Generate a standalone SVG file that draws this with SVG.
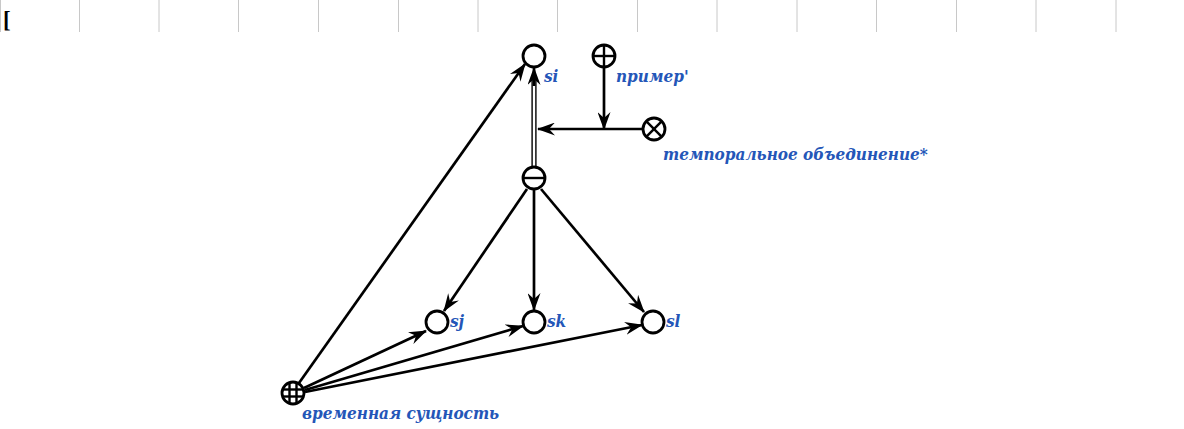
<svg xmlns="http://www.w3.org/2000/svg" width="1184" height="429" viewBox="0 0 1184 429">
<style>
.grid{stroke:#c8c8c8;stroke-width:1}
.node{fill:#fff;stroke:#000;stroke-width:2.8}
.mark{stroke:#000;stroke-width:2.4}
.edge{stroke:#000;stroke-width:2.7;fill:none}
.lbl{font-family:"DejaVu Serif Condensed","DejaVu Serif",serif;font-stretch:condensed;font-weight:bold;font-style:italic;font-size:17px;fill:#2456b8}
</style>
<defs>
<marker id="ah" viewBox="0 0 18 13" refX="17" refY="6.5" markerWidth="18" markerHeight="13" markerUnits="userSpaceOnUse" orient="auto">
<path d="M0,0 L18,6.5 L0,13 L6,6.5 z" fill="#000"/>
</marker>
</defs>
<g id="grid">
<line class="grid" x1="0.5" y1="0" x2="0.5" y2="32"/>
<line class="grid" x1="79.5" y1="0" x2="79.5" y2="32"/>
<line class="grid" x1="159" y1="0" x2="159" y2="32"/>
<line class="grid" x1="238.5" y1="0" x2="238.5" y2="32"/>
<line class="grid" x1="318.5" y1="0" x2="318.5" y2="32"/>
<line class="grid" x1="398.5" y1="0" x2="398.5" y2="32"/>
<line class="grid" x1="478" y1="0" x2="478" y2="32"/>
<line class="grid" x1="557.5" y1="0" x2="557.5" y2="32"/>
<line class="grid" x1="637.5" y1="0" x2="637.5" y2="32"/>
<line class="grid" x1="717" y1="0" x2="717" y2="32"/>
<line class="grid" x1="797" y1="0" x2="797" y2="32"/>
<line class="grid" x1="876.5" y1="0" x2="876.5" y2="32"/>
<line class="grid" x1="956.5" y1="0" x2="956.5" y2="32"/>
<line class="grid" x1="1036" y1="0" x2="1036" y2="32"/>
<line class="grid" x1="1116" y1="0" x2="1116" y2="32"/>
<text x="3" y="27" font-family="Liberation Serif,serif" font-size="23" font-weight="bold" fill="#000">[</text>
</g>
<g id="connectors">
<line x1="534" y1="166" x2="534" y2="76" stroke="#333" stroke-width="5.5"/>
<line x1="534" y1="166" x2="534" y2="80" stroke="#fff" stroke-width="2"/>
<line class="edge" x1="534" y1="86" x2="534" y2="68" marker-end="url(#ah)"/>
<line class="edge" x1="604" y1="68" x2="604" y2="129" marker-end="url(#ah)"/>
<line class="edge" x1="643" y1="129" x2="538" y2="129" marker-end="url(#ah)"/>
<line class="edge" x1="527" y1="189" x2="444" y2="311" marker-end="url(#ah)"/>
<line class="edge" x1="534" y1="189" x2="534" y2="310" marker-end="url(#ah)"/>
<line class="edge" x1="541" y1="189" x2="644" y2="312" marker-end="url(#ah)"/>
<line class="edge" x1="299" y1="383" x2="525" y2="64" marker-end="url(#ah)"/>
<line class="edge" x1="304" y1="388" x2="426" y2="331" marker-end="url(#ah)"/>
<line class="edge" x1="305" y1="390" x2="523" y2="326" marker-end="url(#ah)"/>
<line class="edge" x1="305" y1="392" x2="642" y2="325" marker-end="url(#ah)"/>
</g>
<g id="si">
<circle class="node" cx="534" cy="56" r="11"/>
<text class="lbl" x="544" y="82">si</text>
</g>
<g id="primer">
<circle class="node" cx="604" cy="56" r="11"/>
<line class="mark" x1="593" y1="56" x2="615" y2="56"/>
<line class="mark" x1="604" y1="45" x2="604" y2="67"/>
<text class="lbl" x="616" y="82">пример'</text>
</g>
<g id="temporal">
<circle class="node" cx="654" cy="129" r="11"/>
<line class="mark" x1="646.2" y1="121.2" x2="661.8" y2="136.8"/>
<line class="mark" x1="661.8" y1="121.2" x2="646.2" y2="136.8"/>
<text class="lbl" x="663" y="160">темпоральное объединение*</text>
</g>
<g id="minus">
<circle class="node" cx="534" cy="178" r="11"/>
<line class="mark" x1="523" y1="178" x2="545" y2="178"/>
</g>
<g id="sj">
<circle class="node" cx="437" cy="322" r="11"/>
<text class="lbl" x="450" y="327">sj</text>
</g>
<g id="sk">
<circle class="node" cx="534" cy="322" r="11"/>
<text class="lbl" x="547" y="327">sk</text>
</g>
<g id="sl">
<circle class="node" cx="653" cy="322" r="11"/>
<text class="lbl" x="666" y="327">sl</text>
</g>
<g id="entity">
<circle class="node" cx="293" cy="393" r="11"/>
<line class="mark" stroke-width="1.8" x1="289.5" y1="383" x2="289.5" y2="403"/>
<line class="mark" stroke-width="1.8" x1="296.5" y1="383" x2="296.5" y2="403"/>
<line class="mark" stroke-width="1.8" x1="283" y1="389.5" x2="303" y2="389.5"/>
<line class="mark" stroke-width="1.8" x1="283" y1="396.5" x2="303" y2="396.5"/>
<text class="lbl" x="302" y="419">временная сущность</text>
</g>
</svg>
